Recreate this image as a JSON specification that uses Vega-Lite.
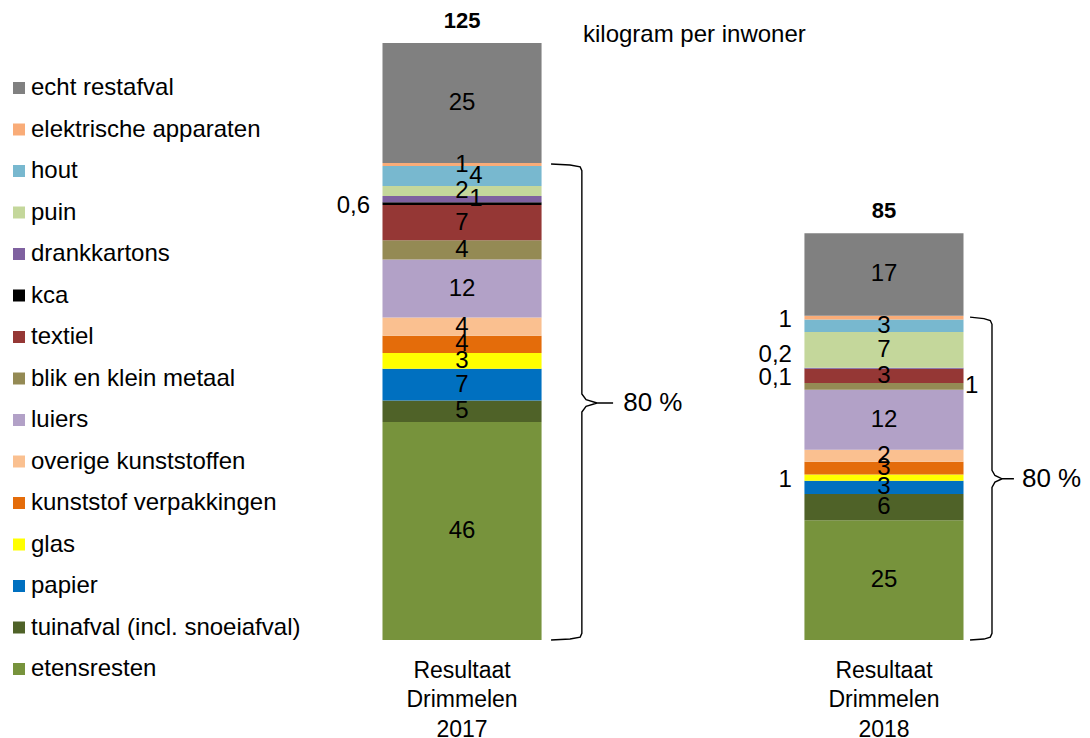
{
  "$schema": "https://vega.github.io/schema/vega-lite/v6.json",
  "autosize": {"type": "none"},
  "padding": {"left": 300, "top": 0, "right": 44, "bottom": 98},
  "width": 746,
  "height": 640,
  "background": "white",
  "config": {
    "view": {"stroke": null},
    "font": "Liberation Sans",
    "text": {"font": "Liberation Sans", "fontSize": 24, "color": "black"}
  },
  "title": {
    "text": "kilogram per inwoner",
    "anchor": "start",
    "frame": "group",
    "dx": 283,
    "dy": 27,
    "offset": -32,
    "baseline": "middle",
    "fontSize": 24,
    "fontWeight": "normal",
    "font": "Liberation Sans",
    "color": "black"
  },
  "resolve": {"scale": {"x": "independent"}},
  "layer": [
    {
      "data": {
        "values": [
          {"jaar": "Resultaat Drimmelen 2017", "afval": "etensresten", "kg": 45.7, "label": "46"},
          {"jaar": "Resultaat Drimmelen 2017", "afval": "tuinafval (incl. snoeiafval)", "kg": 4.5, "label": "5"},
          {"jaar": "Resultaat Drimmelen 2017", "afval": "papier", "kg": 6.7, "label": "7"},
          {"jaar": "Resultaat Drimmelen 2017", "afval": "glas", "kg": 3.3, "label": "3"},
          {"jaar": "Resultaat Drimmelen 2017", "afval": "kunststof verpakkingen", "kg": 3.6, "label": "4"},
          {"jaar": "Resultaat Drimmelen 2017", "afval": "overige kunststoffen", "kg": 3.8, "label": "4"},
          {"jaar": "Resultaat Drimmelen 2017", "afval": "luiers", "kg": 12.2, "label": "12"},
          {"jaar": "Resultaat Drimmelen 2017", "afval": "blik en klein metaal", "kg": 4.0, "label": "4"},
          {"jaar": "Resultaat Drimmelen 2017", "afval": "textiel", "kg": 7.4, "label": "7"},
          {"jaar": "Resultaat Drimmelen 2017", "afval": "kca", "kg": 0.6, "label": "0,6"},
          {"jaar": "Resultaat Drimmelen 2017", "afval": "drankkartons", "kg": 1.3, "label": "1"},
          {"jaar": "Resultaat Drimmelen 2017", "afval": "puin", "kg": 2.1, "label": "2"},
          {"jaar": "Resultaat Drimmelen 2017", "afval": "hout", "kg": 4.2, "label": "4"},
          {"jaar": "Resultaat Drimmelen 2017", "afval": "elektrische apparaten", "kg": 0.6, "label": "1"},
          {"jaar": "Resultaat Drimmelen 2017", "afval": "echt restafval", "kg": 25.2, "label": "25"},
          {"jaar": "Resultaat Drimmelen 2018", "afval": "etensresten", "kg": 25.1, "label": "25"},
          {"jaar": "Resultaat Drimmelen 2018", "afval": "tuinafval (incl. snoeiafval)", "kg": 5.5, "label": "6"},
          {"jaar": "Resultaat Drimmelen 2018", "afval": "papier", "kg": 2.8, "label": "3"},
          {"jaar": "Resultaat Drimmelen 2018", "afval": "glas", "kg": 1.3, "label": "1"},
          {"jaar": "Resultaat Drimmelen 2018", "afval": "kunststof verpakkingen", "kg": 2.7, "label": "3"},
          {"jaar": "Resultaat Drimmelen 2018", "afval": "overige kunststoffen", "kg": 2.5, "label": "2"},
          {"jaar": "Resultaat Drimmelen 2018", "afval": "luiers", "kg": 12.6, "label": "12"},
          {"jaar": "Resultaat Drimmelen 2018", "afval": "blik en klein metaal", "kg": 1.4, "label": "1"},
          {"jaar": "Resultaat Drimmelen 2018", "afval": "textiel", "kg": 2.9, "label": "3"},
          {"jaar": "Resultaat Drimmelen 2018", "afval": "kca", "kg": 0.1, "label": "0,1"},
          {"jaar": "Resultaat Drimmelen 2018", "afval": "drankkartons", "kg": 0.2, "label": "0,2"},
          {"jaar": "Resultaat Drimmelen 2018", "afval": "puin", "kg": 7.5, "label": "7"},
          {"jaar": "Resultaat Drimmelen 2018", "afval": "hout", "kg": 2.6, "label": "3"},
          {"jaar": "Resultaat Drimmelen 2018", "afval": "elektrische apparaten", "kg": 0.8, "label": "1"},
          {"jaar": "Resultaat Drimmelen 2018", "afval": "echt restafval", "kg": 17.3, "label": "17"}
        ]
      },
      "transform": [
        {"calculate": "indexof(['etensresten','tuinafval (incl. snoeiafval)','papier','glas','kunststof verpakkingen','overige kunststoffen','luiers','blik en klein metaal','textiel','kca','drankkartons','puin','hout','elektrische apparaten','echt restafval'], datum.afval)", "as": "volgorde"},
        {"stack": "kg", "groupby": ["jaar"], "sort": [{"field": "volgorde", "order": "ascending"}], "as": ["kg0", "kg1"]},
        {"calculate": "(datum.kg0 + datum.kg1) / 2", "as": "midden"},
        {"calculate": "slice(datum.jaar, -4) + '|' + datum.afval", "as": "sleutel"}
      ],
      "layer": [
        {
          "mark": {"type": "bar"},
          "encoding": {
            "x": {
              "field": "jaar", "type": "nominal", "title": null,
              "scale": {"paddingInner": 0.623, "paddingOuter": 0.1955},
              "axis": {
                "labelExpr": "split(datum.value, ' ')",
                "labelAngle": 0, "labelFontSize": 23, "labelFont": "Liberation Sans",
                "labelColor": "black", "labelLineHeight": 29.5, "labelPadding": 19,
                "ticks": false, "domain": false, "grid": false
              }
            },
            "y": {"field": "kg0", "type": "quantitative", "axis": null, "scale": {"domain": [0, 134.2], "nice": false}},
            "y2": {"field": "kg1"},
            "color": {
              "field": "afval", "type": "nominal",
              "scale": {
                "domain": ["echt restafval", "elektrische apparaten", "hout", "puin", "drankkartons", "kca", "textiel", "blik en klein metaal", "luiers", "overige kunststoffen", "kunststof verpakkingen", "glas", "papier", "tuinafval (incl. snoeiafval)", "etensresten"],
                "range": ["#808080", "#F9AC78", "#78B8CF", "#C4D79B", "#7F61A0", "#000000", "#953735", "#948A54", "#B2A1C7", "#FAC090", "#E46C0A", "#FFFF00", "#0070C0", "#4F6228", "#77933C"]
              },
              "legend": {
                "title": null, "orient": "none", "legendX": -293, "legendY": 76,
                "symbolType": "square", "symbolSize": 144, "symbolStrokeWidth": 0,
                "labelFontSize": 24, "labelFont": "Liberation Sans", "labelColor": "black",
                "labelOffset": 0, "rowPadding": 17.5, "padding": 0, "labelLimit": 400
              }
            }
          }
        },
        {
          "transform": [{"filter": "indexof(['2017|kca','2017|drankkartons','2017|hout','2018|kca','2018|drankkartons','2018|glas','2018|elektrische apparaten','2018|blik en klein metaal'], datum.sleutel) < 0"}],
          "mark": {"type": "text", "baseline": "middle", "align": "center"},
          "encoding": {
            "x": {"field": "jaar", "type": "nominal"},
            "y": {"field": "midden", "type": "quantitative", "axis": null},
            "text": {"field": "label"}
          }
        },
        {
          "transform": [{"filter": "indexof(['2017|kca','2018|glas','2018|elektrische apparaten'], datum.sleutel) >= 0"}],
          "mark": {"type": "text", "baseline": "middle", "align": "right", "dx": -92, "dy": 2},
          "encoding": {
            "x": {"field": "jaar", "type": "nominal"},
            "y": {"field": "midden", "type": "quantitative", "axis": null},
            "text": {"field": "label"}
          }
        },
        {
          "transform": [{"filter": "datum.sleutel == '2018|kca'"}],
          "mark": {"type": "text", "baseline": "middle", "align": "right", "dx": -92, "dy": 9},
          "encoding": {
            "x": {"field": "jaar", "type": "nominal"},
            "y": {"field": "midden", "type": "quantitative", "axis": null},
            "text": {"field": "label"}
          }
        },
        {
          "transform": [{"filter": "datum.sleutel == '2018|drankkartons'"}],
          "mark": {"type": "text", "baseline": "middle", "align": "right", "dx": -92, "dy": -13},
          "encoding": {
            "x": {"field": "jaar", "type": "nominal"},
            "y": {"field": "midden", "type": "quantitative", "axis": null},
            "text": {"field": "label"}
          }
        },
        {
          "transform": [{"filter": "indexof(['2017|drankkartons','2017|hout'], datum.sleutel) >= 0"}],
          "mark": {"type": "text", "baseline": "middle", "align": "center", "dx": 14},
          "encoding": {
            "x": {"field": "jaar", "type": "nominal"},
            "y": {"field": "midden", "type": "quantitative", "axis": null},
            "text": {"field": "label"}
          }
        },
        {
          "transform": [{"filter": "datum.sleutel == '2018|blik en klein metaal'"}],
          "mark": {"type": "text", "baseline": "middle", "align": "left", "dx": 81},
          "encoding": {
            "x": {"field": "jaar", "type": "nominal"},
            "y": {"field": "midden", "type": "quantitative", "axis": null},
            "text": {"field": "label"}
          }
        },
        {
          "transform": [{"aggregate": [{"op": "sum", "field": "kg", "as": "totaal"}], "groupby": ["jaar"]}],
          "mark": {"type": "text", "baseline": "middle", "align": "center", "dy": -22, "fontWeight": "bold", "fontSize": 22},
          "encoding": {
            "x": {"field": "jaar", "type": "nominal"},
            "y": {"field": "totaal", "type": "quantitative", "axis": null},
            "text": {"field": "totaal", "type": "quantitative", "format": ".0f"}
          }
        }
      ]
    },
    {
      "layer": [
        {
          "data": {
            "values": [
              {"jaar": "2017", "i": 1, "bx": 0.211, "kg": 99.8},
              {"jaar": "2017", "i": 2, "bx": 0.256, "kg": 99.6},
              {"jaar": "2017", "i": 3, "bx": 0.280, "kg": 99.2},
              {"jaar": "2017", "i": 4, "bx": 0.284, "kg": 98.4},
              {"jaar": "2017", "i": 5, "bx": 0.284, "kg": 51.6},
              {"jaar": "2017", "i": 6, "bx": 0.294, "kg": 50.4},
              {"jaar": "2017", "i": 7, "bx": 0.320, "kg": 49.7},
              {"jaar": "2017", "i": 8, "bx": 0.358, "kg": 49.7},
              {"jaar": "2017", "i": 9, "bx": 0.320, "kg": 49.7},
              {"jaar": "2017", "i": 10, "bx": 0.294, "kg": 49.0},
              {"jaar": "2017", "i": 11, "bx": 0.284, "kg": 47.8},
              {"jaar": "2017", "i": 12, "bx": 0.284, "kg": 1.4},
              {"jaar": "2017", "i": 13, "bx": 0.280, "kg": 0.6},
              {"jaar": "2017", "i": 14, "bx": 0.256, "kg": 0.2},
              {"jaar": "2017", "i": 15, "bx": 0.211, "kg": 0.0},
              {"jaar": "2018", "i": 1, "bx": 1.204, "kg": 67.7},
              {"jaar": "2018", "i": 2, "bx": 1.237, "kg": 67.4},
              {"jaar": "2018", "i": 3, "bx": 1.252, "kg": 67.0},
              {"jaar": "2018", "i": 4, "bx": 1.256, "kg": 66.2},
              {"jaar": "2018", "i": 5, "bx": 1.256, "kg": 35.6},
              {"jaar": "2018", "i": 6, "bx": 1.263, "kg": 34.5},
              {"jaar": "2018", "i": 7, "bx": 1.280, "kg": 33.8},
              {"jaar": "2018", "i": 8, "bx": 1.308, "kg": 33.8},
              {"jaar": "2018", "i": 9, "bx": 1.280, "kg": 33.8},
              {"jaar": "2018", "i": 10, "bx": 1.263, "kg": 33.1},
              {"jaar": "2018", "i": 11, "bx": 1.256, "kg": 32.0},
              {"jaar": "2018", "i": 12, "bx": 1.256, "kg": 1.4},
              {"jaar": "2018", "i": 13, "bx": 1.252, "kg": 0.6},
              {"jaar": "2018", "i": 14, "bx": 1.237, "kg": 0.2},
              {"jaar": "2018", "i": 15, "bx": 1.204, "kg": 0.0}
            ]
          },
          "mark": {"type": "line", "color": "black", "strokeWidth": 1.4},
          "encoding": {
            "x": {"field": "bx", "type": "quantitative", "axis": null, "scale": {"domain": [-0.384, 1.384], "nice": false, "zero": false}},
            "y": {"field": "kg", "type": "quantitative", "axis": null},
            "detail": {"field": "jaar"},
            "order": {"field": "i", "type": "quantitative"}
          }
        },
        {
          "data": {
            "values": [
              {"jaar": "2017", "bx": 0.382, "kg": 49.7, "tekst": "80 %"},
              {"jaar": "2018", "bx": 1.327, "kg": 33.8, "tekst": "80 %"}
            ]
          },
          "mark": {"type": "text", "align": "left", "baseline": "middle", "fontSize": 26},
          "encoding": {
            "x": {"field": "bx", "type": "quantitative", "axis": null},
            "y": {"field": "kg", "type": "quantitative", "axis": null},
            "text": {"field": "tekst"}
          }
        }
      ]
    }
  ]
}
